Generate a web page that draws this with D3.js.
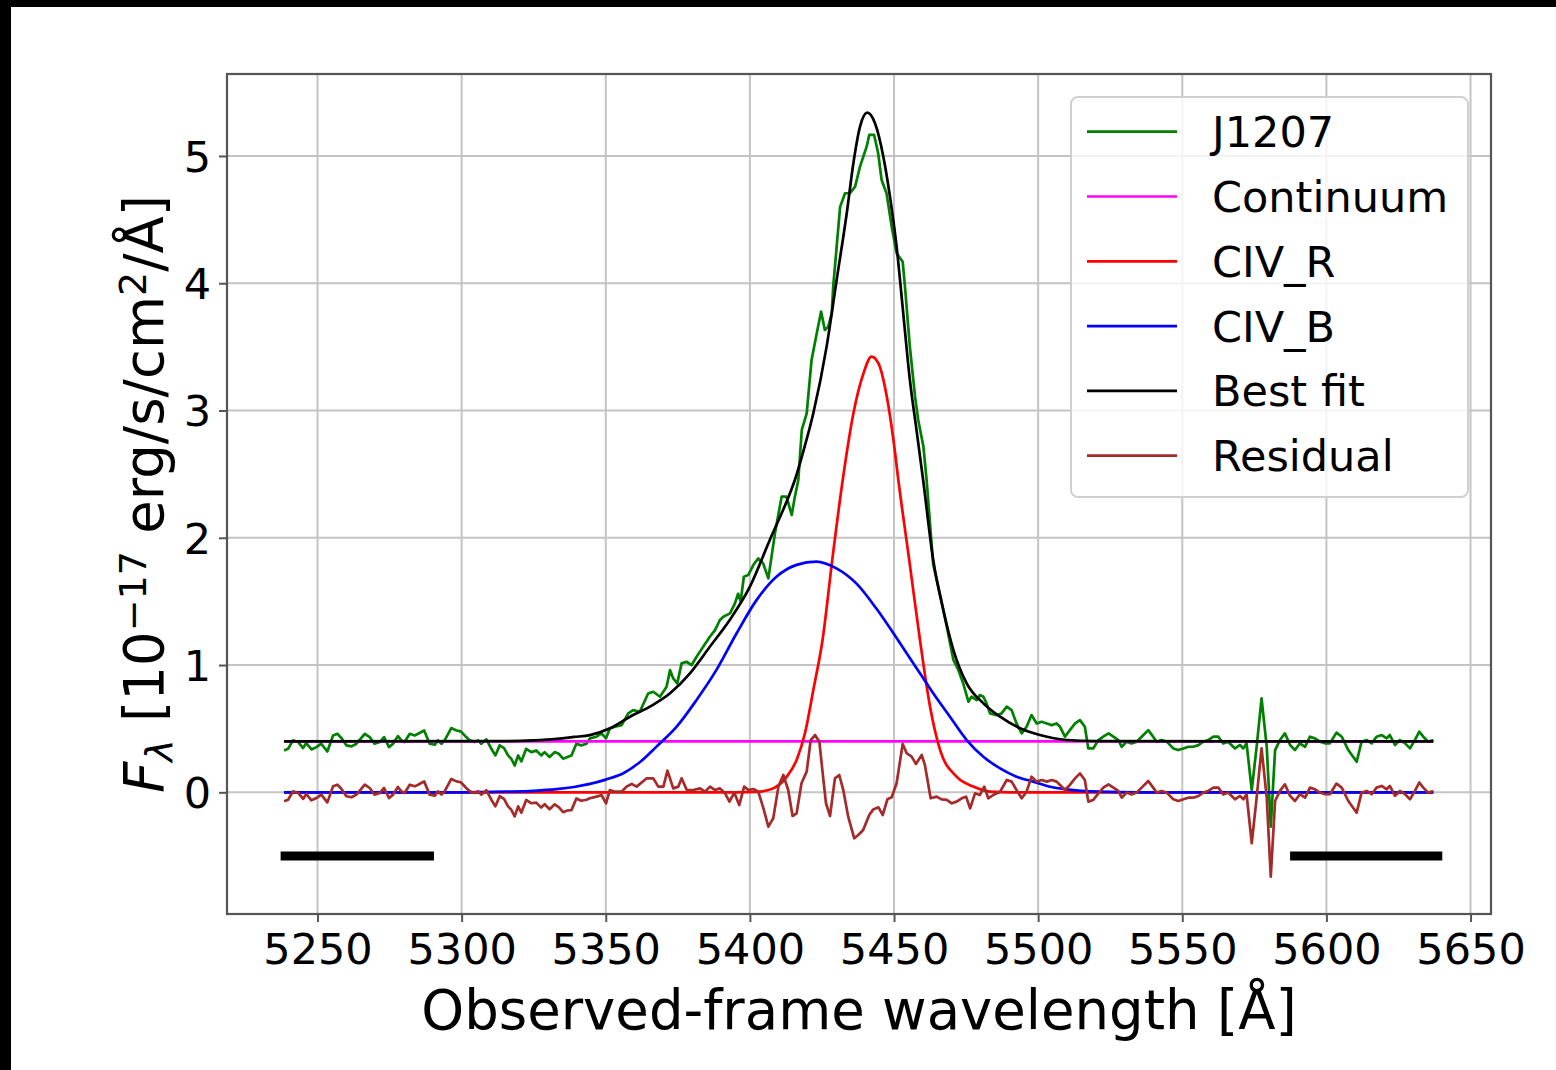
<!DOCTYPE html>
<html>
<head>
<meta charset="utf-8">
<script src="https://cdn.jsdelivr.net/npm/d3@7"></script>
<style>
  html, body { margin: 0; padding: 0; background: #000; }
  svg { display: block; }
  text { font-family: "DejaVu Sans", sans-serif; fill: #000; }
</style>
</head>
<body>
<svg width="1556" height="1070"></svg>
<script>
// observed spectrum (J1207)
const obsWave = [5238.4,5239.8,5241.5,5243.3,5245.0,5246.1,5247.9,5249.6,5251.3,5253.4,5255.4,5256.9,5258.3,5260.0,5261.8,5263.5,5266.4,5268.1,5269.8,5271.6,5273.1,5274.8,5276.2,5277.9,5279.1,5280.2,5282.0,5283.7,5284.9,5287.0,5288.9,5290.7,5291.8,5293.0,5294.1,5296.4,5298.2,5299.7,5301.6,5302.8,5304.5,5305.7,5306.8,5308.6,5310.3,5311.7,5313.2,5314.7,5316.1,5317.2,5318.4,5319.6,5320.7,5322.4,5324.2,5325.9,5327.6,5328.8,5330.5,5332.3,5333.7,5335.2,5336.7,5338.1,5339.8,5341.5,5343.3,
  5344.5,5346.8,5348.5,5350.1,5351.4,5353.2,5355.5,5357.8,5359.5,5361.8,5364.7,5366.5,5368.8,5371.1,5372.3,5373.4,5374.8,5376.3,5378.0,5379.8,5381.5,5383.8,5386.1,5387.9,5389.6,5390.8,5393.1,5394.8,5395.9,5396.8,5397.9,5399.4,5401.2,5402.9,5404.6,5406.4,5408.7,5411.0,5412.7,5414.5,5415.6,5416.8,
  5418.0,5419.7,5421.4,5423.2,5424.7,5426.0,5427.2,5428.4,5428.9,5430.1,5431.3,5433.0,5434.7,5436.5,5438.2,5440.5,5441.4,5443.1,5444.5,5445.7,5447.4,5449.2,5450.9,5453.0,5453.8,5455.5,5457.3,5458.4,5460.2,5461.3,5463.6,5466.3,
  5468.3,5470.6,5472.3,5474.0,5475.8,5476.9,5478.7,5479.8,5481.0,5482.1,5483.3,5485.6,5487.3,5489.1,5490.8,5492.5,5494.3,5496.0,5497.7,5499.5,5501.2,5503.0,5504.7,5506.4,5507.6,5509.3,5511.0,5512.8,5514.5,5516.2,5517.4,5519.1,5520.9,5522.6,5524.4,5526.1,5527.8,5529.0,5530.7,5532.4,5534.2,5535.9,5538.2,5539.9,5541.1,5542.8,5544.6,5546.9,5548.6,5550.4,5552.1,5553.8,5555.6,5557.3,5559.0,5560.8,5562.5,5564.2,5565.9,
  5568.3,5570.0,5571.2,5572.3,5574.1,5575.8,5577.5,5579.3,5580.7,5582.2,5583.9,5585.6,5587.4,5589.1,5590.8,5592.6,5594.3,5596.0,5597.8,5599.5,5601.2,5603.5,5605.3,5607.6,5610.5,5612.2,5614.0,5615.7,5617.4,5619.2,5620.9,5622.0,5623.8,5625.5,5627.3,5629.0,5630.7,5632.2,5633.6,5635.3,5637.1];
const obsFlux = [0.329,0.342,0.408,0.395,0.348,0.387,0.337,0.355,0.382,0.321,0.447,0.460,0.426,0.369,0.361,0.382,0.460,0.434,0.382,0.395,0.434,0.355,0.382,0.442,0.408,0.395,0.460,0.447,0.460,0.486,0.382,0.374,0.408,0.382,0.408,0.505,0.486,0.479,0.434,0.408,0.395,0.408,0.382,0.416,0.342,0.290,0.369,0.348,0.290,0.264,0.211,0.290,0.243,0.342,0.316,0.329,0.290,0.316,0.277,0.316,0.303,0.264,0.277,0.290,0.382,0.369,0.382,
  0.424,0.437,0.463,0.424,0.502,0.515,0.528,0.620,0.646,0.633,0.777,0.790,0.751,0.829,0.960,0.895,0.856,1.013,1.026,1.000,1.065,1.144,1.222,1.275,1.354,1.380,1.406,1.485,1.560,1.500,1.694,1.707,1.786,1.838,1.799,1.681,2.035,2.323,2.323,2.179,2.323,2.454,
  2.847,2.978,3.397,3.607,3.777,3.633,3.659,3.764,3.973,4.287,4.600,4.707,4.707,4.759,4.916,5.073,5.165,5.165,5.021,4.811,4.707,4.444,4.236,4.169,3.973,3.500,3.109,2.925,2.716,2.454,1.790,1.520,
  1.301,1.040,0.961,0.856,0.712,0.751,0.725,0.764,0.751,0.699,0.620,0.607,0.620,0.673,0.646,0.541,0.463,0.515,0.607,0.541,0.554,0.541,0.528,0.541,0.515,0.437,0.489,0.541,0.567,0.515,0.345,0.345,0.411,0.437,0.463,0.437,0.411,0.358,0.398,0.384,0.398,0.437,0.489,0.437,0.398,0.411,0.398,0.345,0.332,0.345,0.358,0.358,0.371,0.398,0.411,0.437,0.437,0.384,0.398,
  0.345,0.372,0.345,0.385,0.018,0.358,0.738,0.358,-0.270,0.332,0.411,0.463,0.372,0.332,0.385,0.358,0.437,0.424,0.398,0.385,0.385,0.469,0.437,0.332,0.240,0.398,0.411,0.385,0.437,0.450,0.424,0.450,0.372,0.411,0.385,0.345,0.411,0.477,0.437,0.398,0.411];

// residual (data - best fit)
const resWave = [5238.4,5239.8,5241.5,5243.3,5245.0,5246.1,5247.9,5249.6,5251.3,5253.4,5255.4,5256.9,5258.3,5260.0,5261.8,5263.5,5266.4,5268.1,5269.8,5271.6,5273.1,5274.8,5276.2,5277.9,5279.1,5280.2,5282.0,5283.7,5284.9,5287.0,5288.9,5290.7,5291.8,5293.0,5294.1,5296.4,5298.2,5299.7,5301.6,5302.8,5304.5,5305.7,5306.8,5308.6,5310.3,5311.7,5313.2,5314.7,5316.1,5317.2,5318.4,5319.6,5320.7,5322.4,5324.2,5325.9,5327.6,5328.8,5330.5,5332.3,5333.7,5335.2,5336.7,5338.1,5339.8,5341.5,5343.3,
  5344.5,5346.8,5348.5,5350.1,5351.4,5353.2,5355.5,5357.2,5359.0,5360.7,5364.2,5366.5,5368.2,5370.0,5371.4,5373.4,5375.2,5376.3,5378.1,5380.4,5382.7,5384.4,5386.2,5387.9,5389.6,5391.4,5392.9,5394.6,5396.3,5398.0,5399.5,5401.2,5402.9,5404.7,5406.4,5408.1,5409.9,5411.6,5413.3,5414.8,5416.2,5417.9,5419.7,5421.1,5422.6,5424.1,5425.5,5426.4,5427.8,5429.5,5431.0,5432.4,5434.1,5436.2,5437.6,5439.3,5441.4,5442.8,5444.6,5446.1,5447.7,5449.2,5450.9,5453.0,5454.4,5456.1,5457.6,5459.6,5460.7,5462.7,5464.8,5466.5,5468.3,5470.0,5471.7,5473.5,5475.0,5476.4,5478.1,5479.8,5481.3,5482.7,5484.4,5486.8,
  5489.1,5490.8,5492.5,5494.3,5496.0,5497.7,5499.5,5501.2,5503.0,5504.7,5506.4,5507.6,5509.3,5511.0,5512.8,5514.5,5516.2,5517.4,5519.1,5520.9,5522.6,5524.4,5526.1,5527.8,5529.0,5530.7,5532.4,5534.2,5535.9,5538.2,5539.9,5541.1,5542.8,5544.6,5546.9,5548.6,5550.4,5552.1,5553.8,5555.6,5557.3,5559.0,5560.8,5562.5,5564.2,5565.9,
  5568.3,5570.0,5571.2,5572.3,5574.1,5575.8,5577.5,5579.3,5580.7,5582.2,5583.9,5585.6,5587.4,5589.1,5590.8,5592.6,5594.3,5596.0,5597.8,5599.5,5601.2,5603.5,5605.3,5607.6,5610.5,5612.2,5614.0,5615.7,5617.4,5619.2,5620.9,5622.0,5623.8,5625.5,5627.3,5629.0,5630.7,5632.2,5633.6,5635.3,5637.1];
const resFlux = [-0.071,-0.058,0.008,-0.005,-0.052,-0.013,-0.063,-0.045,-0.018,-0.079,0.047,0.060,0.026,-0.031,-0.039,-0.018,0.060,0.034,-0.018,-0.005,0.034,-0.045,-0.018,0.042,0.008,-0.005,0.060,0.047,0.060,0.086,-0.018,-0.026,0.008,-0.018,0.008,0.105,0.086,0.079,0.034,0.008,-0.005,0.008,-0.018,0.016,-0.058,-0.110,-0.031,-0.052,-0.110,-0.136,-0.189,-0.110,-0.160,-0.060,-0.086,-0.081,-0.120,-0.094,-0.133,-0.094,-0.117,-0.156,-0.143,-0.140,-0.048,-0.066,-0.058,
  -0.047,-0.034,-0.021,-0.086,0.018,0.005,0.005,0.045,0.066,0.045,0.110,0.110,0.045,0.045,0.170,0.031,0.045,0.110,0.018,0.018,0.031,0.005,0.045,0.018,0.031,-0.008,-0.073,-0.003,-0.100,0.045,0.018,0.026,0.005,-0.126,-0.270,-0.204,0.045,0.136,0.018,-0.186,-0.165,0.071,0.163,0.411,0.450,0.398,0.097,-0.086,-0.186,0.110,0.136,0.018,-0.191,-0.361,-0.335,-0.296,-0.178,-0.134,-0.118,-0.178,-0.055,-0.039,0.071,0.380,0.307,0.281,0.223,0.294,0.216,-0.047,-0.034,-0.055,-0.060,-0.086,-0.073,-0.047,-0.034,-0.126,-0.008,-0.021,0.045,-0.047,-0.021,0.005,
  0.097,0.084,0.018,-0.047,0.005,0.123,0.084,0.097,0.084,0.097,0.084,0.058,0.018,0.058,0.110,0.149,0.097,-0.073,-0.060,-0.008,0.037,0.063,0.037,0.011,-0.042,-0.002,-0.016,-0.002,0.037,0.089,0.037,-0.002,0.011,-0.002,-0.055,-0.068,-0.055,-0.042,-0.042,-0.029,-0.002,0.011,0.037,0.037,-0.016,-0.002,
  -0.055,-0.028,-0.055,-0.015,-0.400,-0.042,0.346,-0.042,-0.663,-0.068,0.011,0.063,-0.028,-0.068,-0.015,-0.042,0.037,0.024,-0.002,-0.015,-0.015,0.069,0.037,-0.068,-0.160,-0.002,0.011,-0.015,0.037,0.050,0.024,0.050,-0.028,0.011,-0.015,-0.055,0.011,0.077,0.037,-0.002,0.011];

// continuum
const contWave = [5238.4, 5637.1];
const contFlux = [0.4, 0.4];

// CIV red component
const civRWave = [5238.4,5395.0,5402.3,5408.1,5412.8,5416.2,5419.1,5422.0,5425.2,5428.7,5432.2,5435.9,5439.4,5442.2,5444.6,5447.5,5449.8,5451.5,5455.3,5459.0,5462.5,5466.0,5471.7,5477.5,5483.3,5490.0,5637.1];
const civRFlux = [0,0,0.003,0.031,0.123,0.254,0.464,0.804,1.197,1.850,2.454,2.977,3.292,3.423,3.370,3.108,2.768,2.454,1.820,1.197,0.673,0.332,0.123,0.045,0.005,0,0];

// CIV blue component
const civBWave = [5238.4,5300.0,5315.0,5325.0,5333.0,5339.0,5344.5,5350.0,5356.1,5362.0,5367.6,5374.6,5381.5,5388.4,5395.4,5402.3,5409.3,5416.2,5423.1,5430.0,5437.0,5444.0,5452.1,5459.0,5463.6,5469.4,5475.2,5481.0,5486.8,5492.5,5498.3,5504.1,5509.9,5521.4,5535.0,5637.1];
const civBFlux = [0,0,0.005,0.012,0.025,0.042,0.066,0.100,0.150,0.240,0.359,0.516,0.726,0.962,1.250,1.510,1.695,1.787,1.813,1.760,1.640,1.440,1.171,0.935,0.778,0.594,0.411,0.280,0.188,0.123,0.084,0.044,0.023,0.005,0,0];

// best fit
const fitWave = [5238.4,5315.0,5325.0,5333.0,5339.0,5344.5,5351.5,5358.4,5365.3,5372.3,5379.2,5386.1,5393.0,5400.0,5406.9,5413.9,5415.6,5418.8,5422.0,5426.6,5430.1,5433.6,5435.9,5438.2,5440.7,5443.4,5446.3,5448.6,5450.9,5453.2,5455.5,5457.8,5460.1,5463.6,5467.1,5470.6,5475.2,5481.0,5486.8,5493.7,5500.6,5509.9,5520.0,5637.1];
const fitFlux = [0.4,0.402,0.408,0.42,0.435,0.45,0.503,0.594,0.673,0.778,0.935,1.144,1.354,1.616,1.983,2.35,2.454,2.70,2.978,3.50,4.026,4.55,4.943,5.23,5.34,5.257,4.994,4.68,4.287,3.764,3.24,2.847,2.454,1.825,1.432,1.118,0.857,0.699,0.594,0.503,0.45,0.411,0.402,0.4];

// black marker bars at y = -0.5
const barStart = [5237.2, 5587.4];
const barEnd = [5290.4, 5640.2];
const barLevel = -0.5;

const xTicks = [5250, 5300, 5350, 5400, 5450, 5500, 5550, 5600, 5650];
const yTicks = [0, 1, 2, 3, 4, 5];

const seriesNames = ['J1207', 'Continuum', 'CIV_R', 'CIV_B', 'Best fit', 'Residual'];
const seriesColors = ['#008000', '#ff00ff', '#ff0000', '#0000ff', '#000000', '#a52a2a'];

const svg = d3.select('svg');
const margin = { left: 227, top: 74, right: 1491, bottom: 914 };

svg.append('rect')
    .attr('x', 11).attr('y', 7)
    .attr('width', 1545).attr('height', 1063)
    .attr('fill', '#fff');

const x = d3.scaleLinear().domain([5218.6, 5657.1]).range([margin.left, margin.right]);
const y = d3.scaleLinear().domain([-0.956, 5.644]).range([margin.bottom, margin.top]);

// grid
const grid = svg.append('g').attr('stroke', '#c4c4c4').attr('stroke-width', 2);
grid.selectAll('.gx').data(xTicks).enter().append('line')
    .attr('x1', d => x(d)).attr('x2', d => x(d))
    .attr('y1', margin.top).attr('y2', margin.bottom);
grid.selectAll('.gy').data(yTicks).enter().append('line')
    .attr('x1', margin.left).attr('x2', margin.right)
    .attr('y1', d => y(d)).attr('y2', d => y(d));

const zip = (w, f) => w.map((d, i) => [d, f[i]]);
const plain = d3.line().x(d => x(d[0])).y(d => y(d[1]));
const smooth = d3.line().x(d => x(d[0])).y(d => y(d[1])).curve(d3.curveMonotoneX);

const series = [
    { pts: zip(obsWave, obsFlux), gen: plain },
    { pts: zip(contWave, contFlux), gen: plain },
    { pts: zip(civRWave, civRFlux), gen: smooth },
    { pts: zip(civBWave, civBFlux), gen: smooth },
    { pts: zip(fitWave, fitFlux), gen: smooth },
    { pts: zip(resWave, resFlux), gen: plain }
];

series.forEach((s, i) => {
    svg.append('path')
        .attr('d', s.gen(s.pts))
        .attr('fill', 'none')
        .attr('stroke', seriesColors[i])
        .attr('stroke-width', 2.7)
        .attr('stroke-linejoin', 'round');
});

// bars
svg.selectAll('.bar').data(barStart).enter().append('line')
    .attr('x1', d => x(d)).attr('x2', (d, i) => x(barEnd[i]))
    .attr('y1', y(barLevel)).attr('y2', y(barLevel))
    .attr('stroke', '#000').attr('stroke-width', 9);

// axes
const xAxis = svg.append('g')
    .attr('transform', 'translate(0,' + margin.bottom + ')')
    .call(d3.axisBottom(x).tickValues(xTicks).tickFormat(d3.format('d')).tickSize(8).tickPadding(11));
const yAxis = svg.append('g')
    .attr('transform', 'translate(' + margin.left + ',0)')
    .call(d3.axisLeft(y).tickValues(yTicks).tickFormat(d3.format('d')).tickSize(8).tickPadding(8));

[xAxis, yAxis].forEach(a => {
    a.select('.domain').remove();
    a.selectAll('line').attr('stroke', '#555').attr('stroke-width', 2);
    a.selectAll('text').style('font-size', '43px').style('font-family', '"DejaVu Sans"').attr('fill', '#000');
});
yAxis.selectAll('text').attr('dy', '0.36em');

svg.append('rect')
    .attr('x', margin.left).attr('y', margin.top)
    .attr('width', margin.right - margin.left).attr('height', margin.bottom - margin.top)
    .attr('fill', 'none').attr('stroke', '#555').attr('stroke-width', 2.2);

// axis labels
svg.append('text')
    .attr('x', (margin.left + margin.right) / 2).attr('y', 1029)
    .attr('text-anchor', 'middle')
    .style('font-size', '54.5px')
    .text('Observed-frame wavelength [Å]');

const ylab = svg.append('text')
    .attr('transform', 'translate(163,' + (margin.top + margin.bottom) / 2 + ') rotate(-90)')
    .attr('text-anchor', 'middle')
    .style('font-size', '54.5px');
ylab.append('tspan').style('font-style', 'italic').text('F');
ylab.append('tspan').style('font-size', '38px').style('font-style', 'italic').attr('dy', 9).text('λ');
ylab.append('tspan').attr('dy', -9).text(' [10');
ylab.append('tspan').style('font-size', '38px').attr('dy', -17).text('−17');
ylab.append('tspan').attr('dy', 17).text(' erg/s/cm');
ylab.append('tspan').style('font-size', '38px').attr('dy', -17).text('2');
ylab.append('tspan').attr('dy', 17).text('/Å]');

// legend
const legend = svg.append('g');
legend.append('rect')
    .attr('x', 1071).attr('y', 97)
    .attr('width', 397).attr('height', 400)
    .attr('rx', 7)
    .attr('fill', '#fff').attr('fill-opacity', 0.8)
    .attr('stroke', '#d0d0d0').attr('stroke-width', 2);

const item = legend.selectAll('.item').data(seriesNames).enter().append('g')
    .attr('transform', (d, i) => 'translate(0,' + (131.7 + i * 64.8) + ')');
item.append('line')
    .attr('x1', 1087).attr('x2', 1177)
    .attr('stroke', (d, i) => seriesColors[i])
    .attr('stroke-width', 2.7);
item.append('text')
    .attr('x', 1212).attr('dy', '0.36em')
    .style('font-size', '43px')
    .text(d => d);
</script>
</body>
</html>
